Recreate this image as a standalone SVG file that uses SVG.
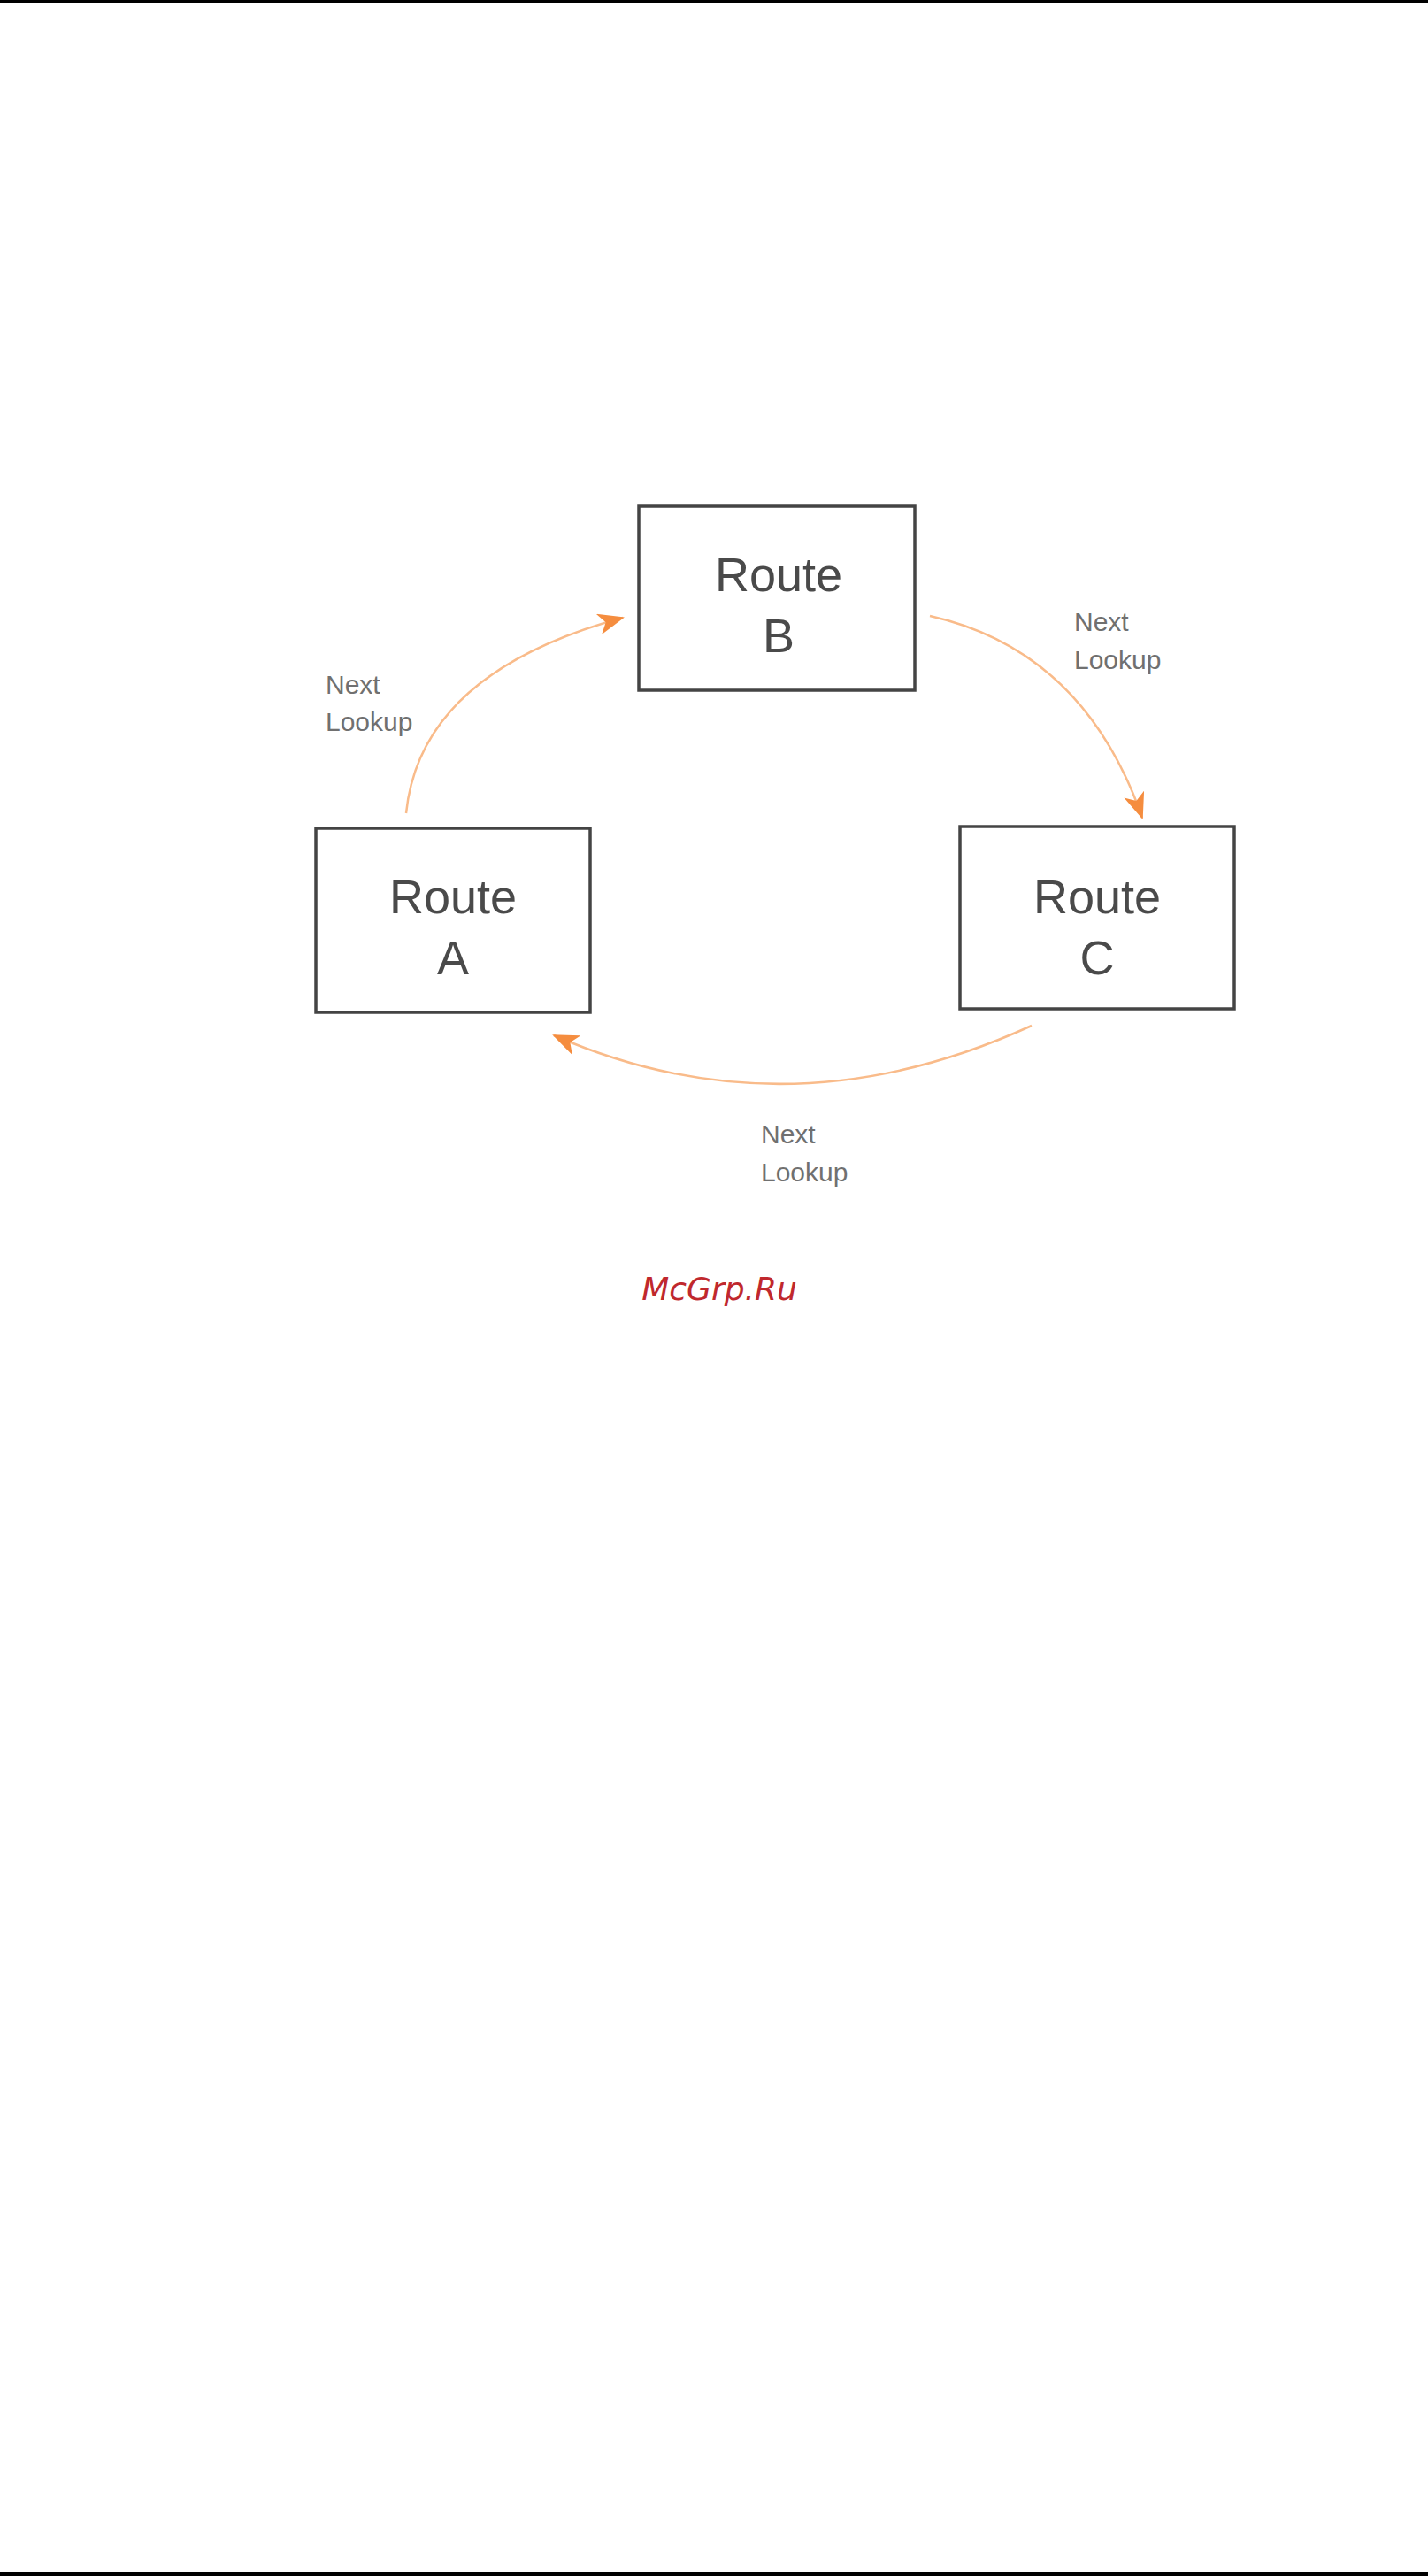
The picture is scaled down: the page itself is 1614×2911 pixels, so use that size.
<svg xmlns="http://www.w3.org/2000/svg" width="1614" height="2911" viewBox="0 0 1614 2911">
<style>
.box{fill:#fff;stroke:#444;stroke-width:3.5}
.t{font-family:"Liberation Sans",Arial,sans-serif;font-size:54px;fill:#4a4a4a;text-anchor:middle}
.l{font-family:"Liberation Sans",Arial,sans-serif;font-size:30px;fill:#707070}
.c{fill:none;stroke:#f9bb8a;stroke-width:2.5}
</style>
<defs>
<marker id="ah" viewBox="0 0 30 24" refX="28" refY="12" markerWidth="30" markerHeight="24" markerUnits="userSpaceOnUse" orient="auto">
<path d="M0,0 L30,12 L0,24 L8,12 Z" fill="#f58d3f"/>
</marker>
</defs>
<rect x="0" y="0" width="1614" height="3" fill="#000"/>
<rect x="0" y="2907" width="1614" height="4" fill="#000"/>
<g id="connectors">
<path class="c" d="M459,919 Q475,760 704,698" marker-end="url(#ah)"/>
<path class="c" d="M1051,696 Q1225,735 1291,924" marker-end="url(#ah)"/>
<path class="c" d="M1166,1159 Q890,1285 626,1170" marker-end="url(#ah)"/>
</g>
<g id="routeB"><rect class="box" x="722" y="572" width="312" height="208"/><text class="t" x="880" y="668">Route</text><text class="t" x="880" y="737">B</text></g>
<g id="routeA"><rect class="box" x="357" y="936" width="310" height="208"/><text class="t" x="512" y="1032">Route</text><text class="t" x="512" y="1101">A</text></g>
<g id="routeC"><rect class="box" x="1085" y="934" width="310" height="206"/><text class="t" x="1240" y="1032">Route</text><text class="t" x="1240" y="1101">C</text></g>
<g id="labels">
<text class="l" x="368" y="784">Next</text><text class="l" x="368" y="826">Lookup</text>
<text class="l" x="1214" y="713">Next</text><text class="l" x="1214" y="756">Lookup</text>
<text class="l" x="860" y="1292">Next</text><text class="l" x="860" y="1335">Lookup</text>
</g>
<text x="813" y="1469" font-family="DejaVu Sans,sans-serif" font-style="italic" font-size="36" fill="#c0282d" text-anchor="middle">McGrp.Ru</text>
</svg>
